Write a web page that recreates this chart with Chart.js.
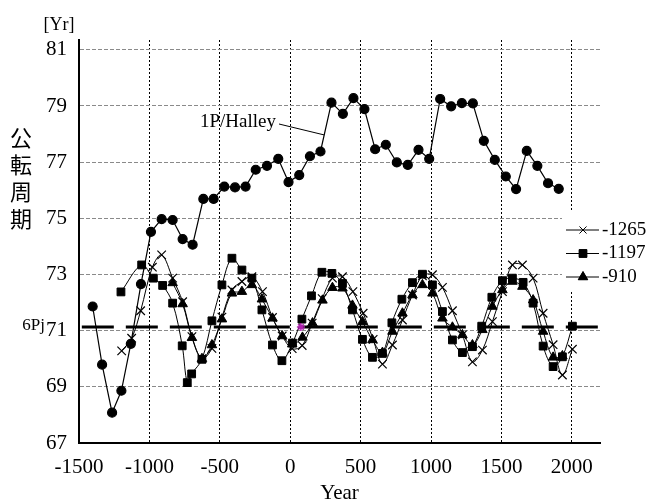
<!DOCTYPE html>
<html>
<head>
<meta charset="utf-8">
<script src="https://cdn.jsdelivr.net/npm/chart.js@4/dist/chart.umd.min.js"></script>
<style>
html, body { margin: 0; padding: 0; background: #fff; }
canvas { display: block; }
</style>
</head>
<body>
<canvas id="c" width="648" height="503"></canvas>
<script>
// tick positions
const xTicks = [-1500, -1000, -500, 0, 500, 1000, 1500, 2000];
const yTicks = [67, 69, 71, 73, 75, 77, 79, 81];

// 1P/Halley
const halleyYears = [-1403, -1336, -1265, -1199, -1132, -1060, -989, -913, -835, -764,
  -693, -617, -544, -468, -392, -317, -245, -165, -85, -12,
  64, 140, 215, 293, 374, 449, 527, 603, 679, 757,
  835, 911, 987, 1065, 1143, 1219, 1297, 1375, 1453, 1531,
  1604, 1680, 1755, 1831, 1907];
const halleyPeriod = [71.86, 69.79, 68.08, 68.86, 70.53, 72.66, 74.52, 74.97, 74.94, 74.26,
  74.06, 75.69, 75.69, 76.13, 76.10, 76.13, 76.73, 76.87, 77.12, 76.29,
  76.54, 77.21, 77.38, 79.12, 78.72, 79.28, 78.89, 77.46, 77.62, 76.99,
  76.90, 77.44, 77.12, 79.25, 78.99, 79.10, 79.09, 77.76, 77.08, 76.49,
  76.04, 77.40, 76.87, 76.25, 76.05];

// -1265
const c1265Years = [-1197, -1126, -1062, -979, -913, -835, -764, -698, -627, -556,
  -485, -414, -343, -272, -197, -126, -57, 14, 85, 156,
  227, 300, 371, 445, 518, 589, 655, 726, 797, 868,
  939, 1010, 1081, 1152, 1223, 1294, 1365, 1436, 1507, 1578,
  1649, 1725, 1796, 1867, 1933, 2004];
const c1265Period = [70.28, 70.73, 71.71, 73.26, 73.70, 72.87, 72.03, 70.79, 70.00, 70.37,
  71.48, 72.45, 72.75, 72.92, 72.39, 71.47, 70.81, 70.36, 70.47, 71.27,
  72.14, 72.87, 72.92, 72.39, 71.62, 70.69, 69.81, 70.49, 71.38, 72.27,
  72.95, 72.99, 72.54, 71.71, 70.85, 69.89, 70.31, 71.32, 72.39, 73.34,
  73.34, 72.87, 71.62, 70.50, 69.42, 70.34];

// -1197
const c1197Years = [-1202, -1055, -972, -906, -835, -767, -731, -700, -627, -556,
  -485, -414, -343, -272, -201, -126, -59, 16, 83, 151,
  225, 296, 371, 442, 513, 584, 655, 722, 793, 868,
  939, 1010, 1081, 1152, 1223, 1294, 1360, 1432, 1507, 1578,
  1654, 1725, 1796, 1867, 1933, 2004];
const c1197Period = [72.38, 73.34, 72.87, 72.61, 71.98, 70.46, 69.15, 69.46, 69.98, 71.35,
  72.63, 73.58, 73.16, 72.87, 71.74, 70.49, 69.93, 70.56, 71.41, 72.24,
  73.08, 73.04, 72.68, 71.74, 70.69, 70.05, 70.19, 71.28, 72.12, 72.71,
  73.01, 72.63, 71.68, 70.67, 70.22, 70.43, 71.16, 72.19, 72.78, 72.87,
  72.72, 71.98, 70.45, 69.72, 70.07, 71.16];

// -910
const c910Years = [-835, -764, -698, -627, -556, -485, -414, -343, -272, -201,
  -126, -57, 14, 87, 158, 229, 300, 371, 442, 513,
  584, 655, 726, 797, 868, 939, 1010, 1081, 1152, 1223,
  1294, 1365, 1436, 1507, 1578, 1649, 1725, 1796, 1867, 1933];
const c910Period = [72.70, 71.95, 70.75, 70.00, 70.49, 71.41, 72.33, 72.39, 72.63, 72.12,
  71.44, 70.81, 70.52, 70.76, 71.27, 72.08, 72.53, 72.51, 71.90, 71.32,
  70.67, 70.22, 70.97, 71.62, 72.27, 72.63, 72.33, 71.44, 71.12, 70.85,
  70.49, 71.03, 71.86, 72.45, 72.75, 72.57, 72.09, 70.97, 70.05, 70.10];

// 6Pj reference line and marked point
const sixPjYears = [-1480, 2200];
const sixPjPeriod = 71.13;
const markYear = [76];

const serif = "'Liberation Serif', 'Times New Roman', serif";
Chart.defaults.font.family = serif;
Chart.defaults.color = '#000';

const pts = (xs, ys) => xs.map((x, i) => ({ x: x, y: Array.isArray(ys) ? ys[i] : ys }));

const legendItems = [
  { text: '-1265', style: 'crossRot', r: 5 },
  { text: '-1197', style: 'rect', r: 5.5 },
  { text: '-910', style: 'triangle', r: 5.5 }
];

const extras = {
  id: 'extras',
  afterDraw(chart) {
    const { ctx, scales: { x, y } } = chart;
    ctx.save();
    ctx.fillStyle = '#000';
    ctx.textBaseline = 'middle';

    ctx.font = '18px ' + serif;
    ctx.textAlign = 'center';
    ctx.fillText('[Yr]', 59, 25);

    ctx.font = "22px 'Noto Sans CJK JP'";
    ['公', '転', '周', '期'].forEach((ch, i) => ctx.fillText(ch, 21, 138 + i * 27));

    ctx.font = '17px ' + serif;
    ctx.textAlign = 'right';
    ctx.fillText('6Pj', 45, y.getPixelForValue(sixPjPeriod) - 1);

    // Halley label with leader
    ctx.font = '19px ' + serif;
    ctx.fillText('1P/Halley', 276, 122);
    ctx.strokeStyle = '#000';
    ctx.lineWidth = 1;
    ctx.beginPath();
    ctx.moveTo(279, 124);
    ctx.lineTo(x.getPixelForValue(241), y.getPixelForValue(77.97));
    ctx.stroke();

    // legend
    ctx.fillStyle = '#fff';
    ctx.fillRect(562, 212, 86, 80);
    ctx.font = '19px ' + serif;
    ctx.textAlign = 'left';
    legendItems.forEach((it, i) => {
      const ly = 230 + i * 23.5;
      ctx.strokeStyle = '#000';
      ctx.lineWidth = 1;
      ctx.beginPath();
      ctx.moveTo(566, ly);
      ctx.lineTo(599, ly);
      ctx.stroke();
      ctx.fillStyle = '#000';
      Chart.helpers.drawPoint(ctx, {
        pointStyle: it.style, radius: it.r, rotation: 0, borderWidth: 1
      }, 583, ly);
      if (it.style !== 'crossRot') ctx.fill();
      ctx.fillStyle = '#000';
      ctx.fillText(it.text, 602, ly);
    });
    ctx.restore();
  }
};

new Chart(document.getElementById('c'), {
  type: 'line',
  data: {
    datasets: [
      {
        label: '6Pj',
        data: pts(sixPjYears, sixPjPeriod),
        borderColor: '#000',
        borderWidth: 3,
        borderDash: [32, 12],
        pointRadius: 0,
        order: 5
      },
      {
        label: '1P/Halley',
        data: pts(halleyYears, halleyPeriod),
        borderColor: '#000',
        borderWidth: 1.2,
        pointStyle: 'circle',
        pointRadius: 4.5,
        pointBackgroundColor: '#000',
        pointBorderColor: '#000',
        tension: 0
      },
      {
        label: '-1265',
        data: pts(c1265Years, c1265Period),
        borderColor: '#000',
        borderWidth: 1,
        pointStyle: 'crossRot',
        pointRadius: 6,
        pointBorderColor: '#000',
        pointBorderWidth: 1.2,
        tension: 0.35
      },
      {
        label: '-1197',
        data: pts(c1197Years, c1197Period),
        borderColor: '#000',
        borderWidth: 1,
        pointStyle: 'rect',
        pointRadius: 5.5,
        pointBackgroundColor: '#000',
        pointBorderColor: '#000',
        tension: 0.35
      },
      {
        label: '-910',
        data: pts(c910Years, c910Period),
        borderColor: '#000',
        borderWidth: 1,
        pointStyle: 'triangle',
        pointRadius: 5.5,
        pointBackgroundColor: '#000',
        pointBorderColor: '#000',
        tension: 0.35
      },
      {
        label: 'mark',
        data: pts(markYear, sixPjPeriod),
        showLine: false,
        pointStyle: 'star',
        pointRadius: 4,
        pointBorderColor: '#b020b0',
        pointBorderWidth: 1.5,
        order: -1
      }
    ]
  },
  options: {
    responsive: false,
    animation: false,
    devicePixelRatio: 1,
    layout: { padding: { top: 40, right: 48, left: 0, bottom: 0 } },
    plugins: {
      legend: { display: false },
      tooltip: { enabled: false }
    },
    scales: {
      x: {
        type: 'linear',
        min: -1500,
        max: 2200,
        afterBuildTicks: s => { s.ticks = xTicks.map(v => ({ value: v })); },
        afterFit: s => { s.height = 60; },
        ticks: {
          font: { size: 21 }, color: '#000', padding: 12, maxRotation: 0, autoSkip: false,
          callback: v => String(v)
        },
        grid: {
          drawTicks: false,
          color: c => (c.tick && c.tick.value === -1500) ? 'rgba(0,0,0,0)' : '#000',
          lineWidth: 1
        },
        border: { display: true, color: '#000', width: 2, dash: [2, 2] },
        title: { display: true, text: 'Year', font: { size: 21 }, color: '#000', padding: { top: 0, bottom: -3 } }
      },
      y: {
        min: 67,
        max: 81.35,
        afterBuildTicks: s => { s.ticks = yTicks.map(v => ({ value: v })); },
        afterFit: s => { s.width = 79; },
        ticks: { font: { size: 21 }, color: '#000', padding: 12 },
        grid: {
          drawTicks: false,
          color: c => (c.tick && c.tick.value === 67) ? 'rgba(0,0,0,0)' : '#8a8a8a',
          lineWidth: 1
        },
        border: { display: true, color: '#000', width: 2, dash: [4, 2] }
      }
    }
  },
  plugins: [extras]
});
</script>
</body>
</html>
